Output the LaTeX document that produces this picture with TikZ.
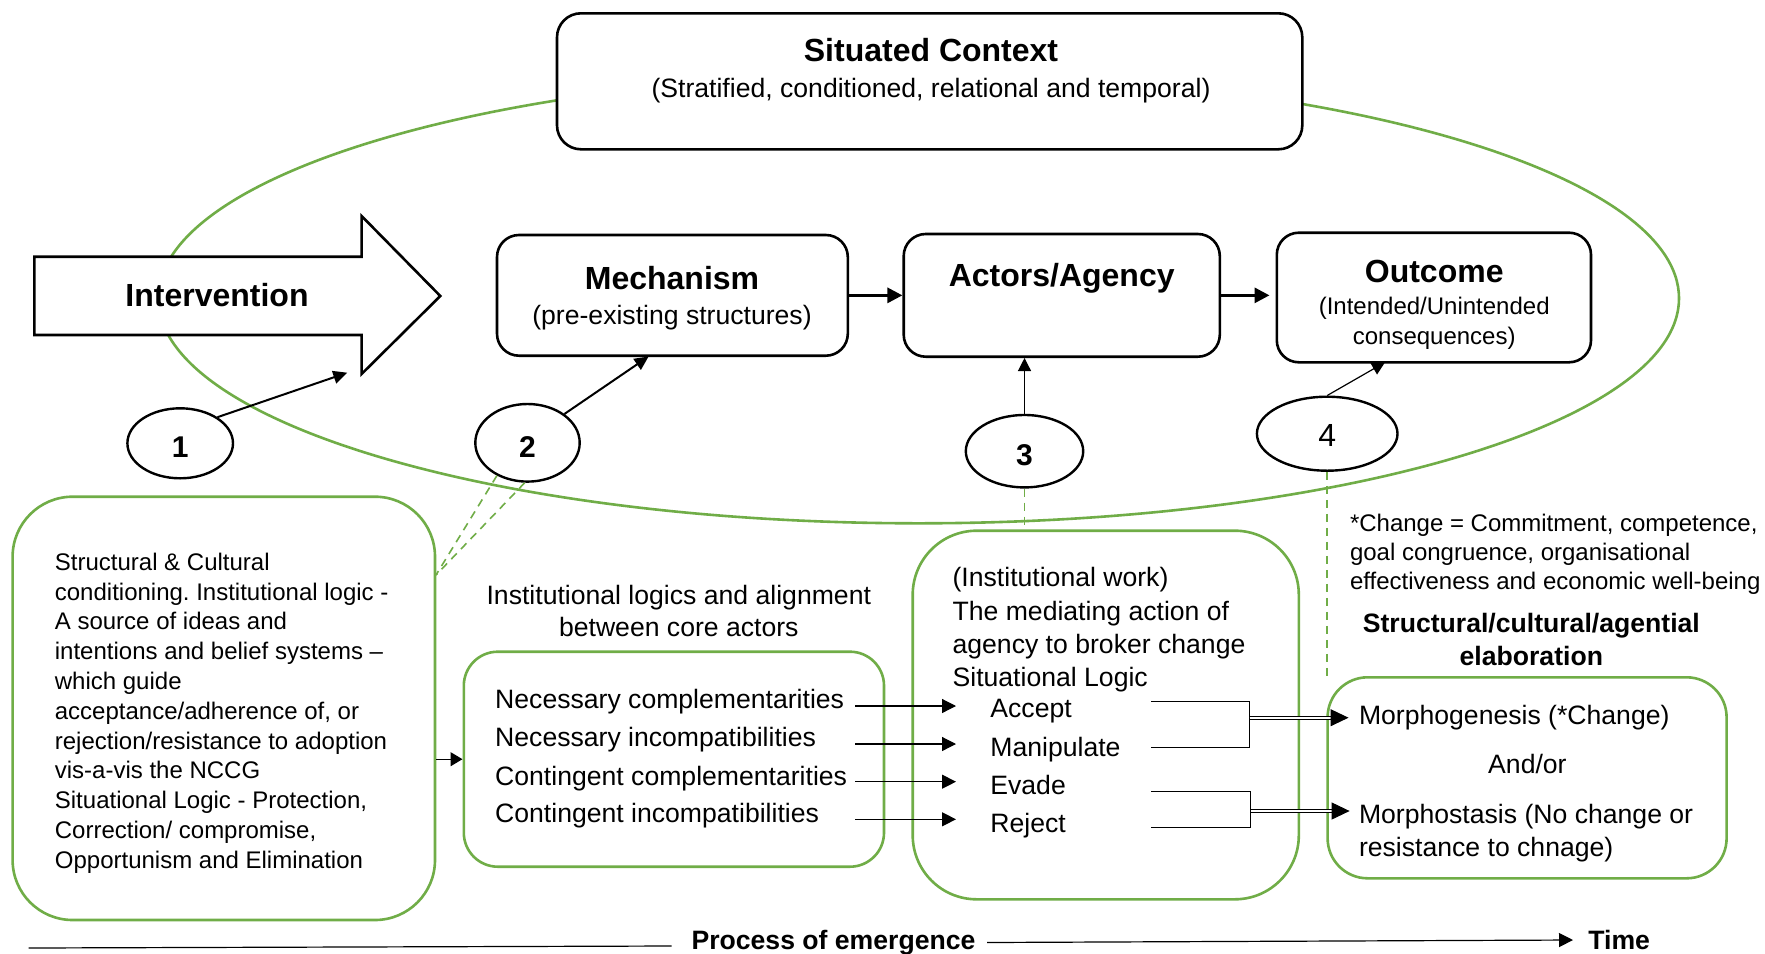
\documentclass[tikz,border=0pt]{standalone}
\usepackage{fontspec}
\setmainfont{Liberation Sans}
\usetikzlibrary{arrows.meta,shapes.geometric}
\definecolor{leaf}{HTML}{70AD47}
\frenchspacing
\begin{document}
\begin{tikzpicture}[x=0.5pt,y=-0.5pt,
  box/.style={draw=black,line width=1.3pt,fill=white,rounded corners=11pt,inner sep=0pt},
  gbox/.style={draw=leaf,line width=1.3pt,inner sep=0pt},
  lbl/.style={inner sep=0pt},
  ttl/.style={lbl,font=\fontsize{16}{19}\selectfont\bfseries},
  sub/.style={lbl,font=\fontsize{13.3}{15}\selectfont},
  small/.style={lbl,font=\fontsize{12}{14.5}\selectfont},
  mid/.style={lbl,font=\fontsize{13.3}{16}\selectfont},
  num/.style={draw,ellipse,line width=1.2pt,fill=white,inner sep=0pt,text height=14.2pt,text depth=0pt,font=\fontsize{15}{18}\selectfont\bfseries},
  tri/.style={-{Triangle[length=6.5pt,width=6.5pt]}},
  gdash/.style={draw=leaf,line width=0.8pt,dash pattern=on 4pt off 3pt},
  thin/.style={line width=0.6pt},
]
\fill[white] (0,0) rectangle (1765,953);
\useasboundingbox (0,0) rectangle (1765,953);

% context ellipse
\draw[leaf,line width=1.3pt] (918.6,298.3) ellipse [x radius=380.2pt, y radius=112.5pt];

% situated context
\node[box,rounded corners=12pt,minimum width=372.65pt,minimum height=68pt] (sc) at (929.65,81.3) {};
\node[ttl,anchor=base] (sct) at (931,61.5) {Situated Context};
\node[sub,anchor=base] (scs) at (931,97) {(Stratified, conditioned, relational and temporal)};

% intervention arrow
\draw[line width=1.3pt,fill=white] (34.4,256.7) -- (361.6,256.7) -- (361.6,216) -- (440.3,296)
  -- (361.6,374) -- (361.6,335) -- (34.4,335) -- cycle;
\node[ttl] (iv) at (217,295) {Intervention};

% main chain
\node[box,minimum width=175.4pt,minimum height=60.35pt] (mech) at (672.4,295.35) {};
\node[ttl,anchor=base] (mecht) at (672,289.8) {Mechanism};
\node[sub,anchor=base] (mechs) at (672,324) {(pre-existing structures)};

\node[box,minimum width=158.05pt,minimum height=61.35pt] (act) at (1061.75,295.35) {};
\node[ttl,anchor=base] (actt) at (1061.7,286.5) {Actors/Agency};

\node[box,minimum width=157.1pt,minimum height=64.8pt] (out) at (1433.9,297.5) {};
\node[ttl,anchor=base] (outt) at (1434.2,282) {Outcome};
\node[small,anchor=base] (outs1) at (1434.2,314.6) {(Intended/Unintended};
\node[small,anchor=base] (outs2) at (1434.2,344.6) {consequences)};

\draw[line width=1.5pt,-{Triangle[length=7.5pt,width=7.5pt]}] (mech.east) -- (act.west);
\draw[line width=1.5pt,-{Triangle[length=7.5pt,width=7.5pt]},shorten >=3pt] (act.east) -- (act.east -| out.west);

% numbered markers
\node[num,minimum width=52.8pt,minimum height=35pt] (c1) at (180.2,443.3) {1};
\node[num,minimum width=52.2pt,minimum height=38.8pt] (c2) at (527.5,442.8) {2};
\node[num,minimum width=58.7pt,minimum height=36.2pt] (c3) at (1024.5,451.2) {3};
\node[num,minimum width=70.3pt,minimum height=37pt,text height=12.5pt,font=\fontsize{16}{19}\selectfont] (c4) at (1327.2,433.7) {4};

\coordinate (t1) at (347.3,372.7);
\coordinate (t2) at (648.6,356.5);
\coordinate (t4) at (1385,362.3);
\draw[line width=1pt,-{Triangle[length=7pt,width=6.5pt]}] (c1.35) -- (t1);
\draw[line width=1pt,-{Triangle[length=7pt,width=6.5pt]}] (c2.38) -- (t2);
\draw[thin,tri] (c3.north) -- (c3.north |- act.south);
\draw[thin,tri] (c4.north) -- (t4);

% lower panels
\node[gbox,rounded corners=30pt,minimum width=211.2pt,minimum height=211.65pt] (lb) at (223.8,708.35) {};
\node[small,anchor=north west,align=left,font=\fontsize{12}{14.9}\selectfont] (lbt) at (54.5,552.5) {Structural \& Cultural\\
conditioning. Institutional logic -\\
A source of ideas and\\
intentions and belief systems --\\
which guide\\
acceptance/adherence of, or\\
rejection/resistance to adoption\\
vis-a-vis the NCCG\\
Situational Logic - Protection,\\
Correction/ compromise,\\
Opportunism and Elimination};

\node[gbox,rounded corners=17pt,minimum width=210.1pt,minimum height=107.5pt] (mb) at (673.9,759.2) {};
\node[mid,anchor=north,align=center,font=\fontsize{13.3}{16.2}\selectfont] (mbh) at (678.8,584.8) {Institutional logics and alignment\\between core actors};
\node[mid,anchor=base west] (n1) at (494.8,708.8) {Necessary complementarities};
\node[mid,anchor=base west] (n2) at (494.8,746.2) {Necessary incompatibilities};
\node[mid,anchor=base west] (n3) at (494.8,785.5) {Contingent complementarities};
\node[mid,anchor=base west] (n4) at (494.8,822.8) {Contingent incompatibilities};

\node[gbox,rounded corners=32pt,minimum width=193.05pt,minimum height=184.3pt] (iw) at (1105.75,715) {};
\node[mid,anchor=north west,align=left,font=\fontsize{13.3}{16.67}\selectfont] (iwt) at (952.2,567.2) {(Institutional work)\\
The mediating action of\\
agency to broker change\\
Situational Logic};
\node[mid,anchor=base west] (r1) at (990,717.8) {Accept};
\node[mid,anchor=base west] (r2) at (990,756.2) {Manipulate};
\node[mid,anchor=base west] (r3) at (990,794.5) {Evade};
\node[mid,anchor=base west] (r4) at (990,832.8) {Reject};

\node[gbox,rounded corners=20pt,minimum width=199.5pt,minimum height=100.5pt] (rb) at (1527.1,777.8) {};
\node[mid,anchor=base west] (m1) at (1358.6,724.5) {Morphogenesis (*Change)};
\node[mid,anchor=base] (m0) at (1527.4,773.5) {And/or};
\node[mid,anchor=north west,align=left,font=\fontsize{13.3}{16.7}\selectfont] (m2) at (1358.6,803.8) {Morphostasis (No change or\\resistance to chnage)};

\node[small,anchor=north west,align=left] (chg) at (1349.6,514.1) {*Change = Commitment, competence,\\
goal congruence, organisational\\
effectiveness and economic well-being};
\node[mid,anchor=north,align=center,font=\fontsize{13.3}{16.15}\selectfont\bfseries] (elab) at (1531.3,613.2) {Structural/cultural/agential\\elaboration};

% dashed links from markers
\coordinate (j2) at (436,575);
\draw[gdash] (c2.227) -- (j2);
\draw[gdash] (c2.266) -- (j2);
\draw[gdash] (c3.south) -- (c3.south |- iw.north);
\draw[gdash] (c4.south) -- (c4.south |- rb.north);

% panel connectors
\draw[thin,-{Triangle[length=6pt,width=7pt]}] (mb.west -| lb.east) -- (mb.west);

\coordinate (s1) at (855,706);   \coordinate (e1) at (956,706);
\coordinate (s2) at (855,744);   \coordinate (e2) at (956,744);
\coordinate (s3) at (855,781.7); \coordinate (e3) at (956,781.7);
\coordinate (s4) at (855,819.3); \coordinate (e4) at (956,819.3);
\foreach \i in {1,2,3,4} \draw[thin,-{Triangle[length=7pt,width=7pt]}] (s\i) -- (e\i);

\coordinate (k1) at (1151,701.7);
\coordinate (k2) at (1249.7,747.3);
\coordinate (k3) at (1151,747.3);
\coordinate (km) at (1249.7,717.7);
\coordinate (g1) at (1348.5,717.7);
\draw[thin] (k1) -| (k2) -- (k3);
\coordinate (k4) at (1151,791.7);
\coordinate (k5) at (1250.8,827.3);
\coordinate (k6) at (1151,827.3);
\coordinate (kn) at (1250.8,811);
\coordinate (g2) at (1349.6,811);
\draw[thin] (k4) -| (k5) -- (k6);
\draw[line width=0.5pt,double,double distance=0.9pt,-{Triangle[length=9pt,width=8.5pt]}] (km) -- (g1);
\draw[line width=0.5pt,double,double distance=0.9pt,-{Triangle[length=9pt,width=8.5pt]}] (kn) -- (g2);

% time axis
\node[mid,anchor=base,font=\fontsize{13.3}{16}\selectfont\bfseries] (poe) at (833.5,949.5) {Process of emergence};
\node[mid,anchor=base west,font=\fontsize{13.3}{16}\selectfont\bfseries] (time) at (1588,949.5) {Time};
\coordinate (ax0) at (28.7,948);
\coordinate (ax1) at (671.6,946);
\coordinate (ax2) at (987,942.5);
\coordinate (ax3) at (1573,940);
\draw[thin] (ax0) -- (ax1);
\draw[thin,-{Triangle[length=7pt,width=7pt]}] (ax2) -- (ax3);
\end{tikzpicture}
\end{document}
